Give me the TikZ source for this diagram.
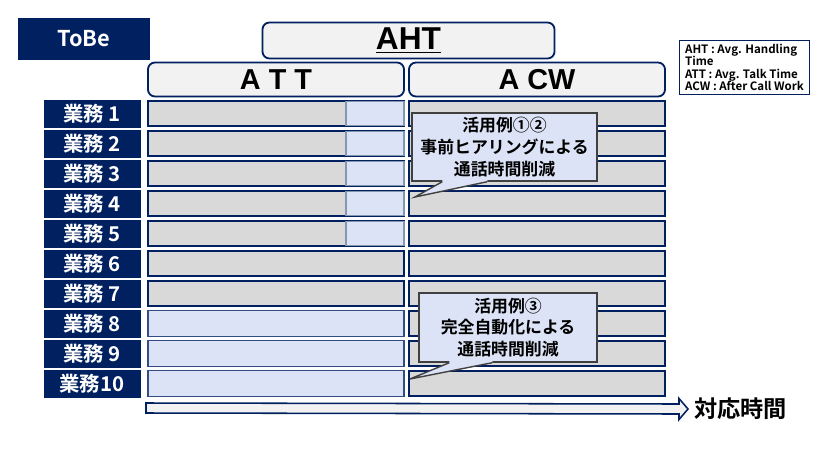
\documentclass[tikz,border=0pt]{standalone}
\usepackage{fontspec}
\usepackage{xcolor}
\usepackage{tikz}
\usetikzlibrary{calc}
\newfontfamily\jpb{Noto Sans CJK JP Bold}
\newfontfamily\latb{Liberation Sans Bold}
\definecolor{NAVY}{HTML}{002060}
\definecolor{HEAD}{HTML}{F2F2F2}
\definecolor{GRAY}{HTML}{D9D9D9}
\definecolor{LBLUE}{HTML}{DDE3F6}
\definecolor{LEDGE}{HTML}{8497B0}
\definecolor{CALL}{HTML}{404040}

\tikzset{
  tagbox/.style={fill=NAVY, draw=NAVY, text=white, minimum width=2.4cm, minimum height=0.675cm, inner sep=0pt, font=\jpb\fontsize{14.5}{17}\selectfont},
  graybar/.style={fill=GRAY, draw=NAVY, line width=1.2pt, minimum width=6.4cm, minimum height=0.64cm, inner sep=0pt},
  bluebar/.style={fill=LBLUE, draw=NAVY!80, line width=0.9pt, minimum width=6.4cm, minimum height=0.64cm, inner sep=0pt},
  bluecell/.style={fill=LBLUE, draw=LEDGE, line width=0.8pt, minimum width=1.45cm, minimum height=0.6cm, inner sep=0pt},
  headbox/.style={fill=HEAD, draw=NAVY, line width=1.3pt, rounded corners=5pt, inner sep=0pt},
  callbox/.style={fill=LBLUE, draw=CALL, line width=1pt, align=center, inner sep=0pt, font=\jpb\fontsize{12}{15.5}\selectfont},
  calltail/.style={draw=CALL, line width=1pt, line join=miter},
  axisarrow/.style={fill=HEAD, draw=NAVY, line width=1.1pt, line join=miter},
}

\begin{document}
\begin{tikzpicture}[x=0.025cm, y=-0.025cm]%
\useasboundingbox (0,0) rectangle (820,461);%
% title and headers
\node[fill=NAVY, minimum width=3.3cm, minimum height=1.05cm, inner sep=0pt, text=white, font=\jpb\fontsize{15.5}{18}\selectfont] (tobe) at (84,39) {ToBe};%
\node[headbox, minimum width=7.3cm, minimum height=0.9cm, font=\latb\fontsize{22.5}{26}\selectfont] (aht) at (408.5,40.5) {\underline{AHT}};%
\node[headbox, minimum width=6.4cm, minimum height=0.85cm, font=\latb\fontsize{20.5}{24}\selectfont] (att) at (276,79.5) {A T T};%
\node[headbox, minimum width=6.4cm, minimum height=0.85cm, font=\latb\fontsize{20.5}{24}\selectfont] (acw) at (537,79.5) {A CW};%
\node[draw=NAVY, line width=1pt, fill=white, minimum width=3.25cm, minimum height=1.35cm, inner sep=0pt, align=left, font=\jpb\fontsize{8.2}{8.8}\selectfont] (legend) at (744.5,67.5) {AHT : Avg. Handling\\Time\\ATT : Avg. Talk Time\\ACW : After Call Work};%
% rows
\foreach \i in {1,...,10}{%
  \pgfmathsetmacro{\yc}{113.5+30*(\i-1)}%
  \ifnum\i<10
    \node[tagbox] (task\i) at (92,\yc) {業務\hspace{3pt}\i};%
  \else
    \node[tagbox] (task\i) at (92,\yc) {業務\i};%
  \fi
  \ifnum\i<8
    \node[graybar] (att\i) at (276,\yc) {};%
  \else
    \node[bluebar] (att\i) at (276,\yc) {};%
  \fi
  \ifnum\i<6
    \node[bluecell] (cut\i) at (375,\yc) {};%
  \fi
  \node[graybar] (acw\i) at (537,\yc) {};%
}
% callouts
\node[callbox, minimum width=4.625cm, minimum height=1.7cm] (use1) at (504.5,147) {活用例①②\\事前ヒアリングによる\\通話時間削減};%
\coordinate (tip1) at (415,197);%
\fill[LBLUE] ($(use1.south west)+(31,-2)$) -- ($(use1.south west)+(31,0)$) -- (tip1) -- ($(use1.south west)+(76,0)$) -- ($(use1.south west)+(76,-2)$) -- cycle;%
\draw[calltail] ($(use1.south west)+(31,0)$) -- (tip1) -- ($(use1.south west)+(76,0)$);%
\node[callbox, minimum width=4.45cm, minimum height=1.725cm] (use2) at (508,327.5) {活用例③\\完全自動化による\\通話時間削減};%
\coordinate (tip2) at (410,379);%
\fill[LBLUE] ($(use2.south west)+(31,-2)$) -- ($(use2.south west)+(31,0)$) -- (tip2) -- ($(use2.south west)+(74,0)$) -- ($(use2.south west)+(74,-2)$) -- cycle;%
\draw[calltail] ($(use2.south west)+(31,0)$) -- (tip2) -- ($(use2.south west)+(74,0)$);%
% time axis
\node[anchor=west, inner sep=0pt, font=\jpb\fontsize{16.5}{20}\selectfont] (timelbl) at (694,409) {対応時間};%
\coordinate (axis0) at (146,408);%
\coordinate (axis1) at ($(timelbl.west)+(-6,0)$);%
\filldraw[axisarrow] ($(axis0)+(0,-5)$) -- ($(axis1)+(-9,-5)$) -- ($(axis1)+(-9,-10.5)$) -- (axis1) -- ($(axis1)+(-9,10.5)$) -- ($(axis1)+(-9,5)$) -- ($(axis0)+(0,5)$) -- cycle;%
\end{tikzpicture}
\end{document}
